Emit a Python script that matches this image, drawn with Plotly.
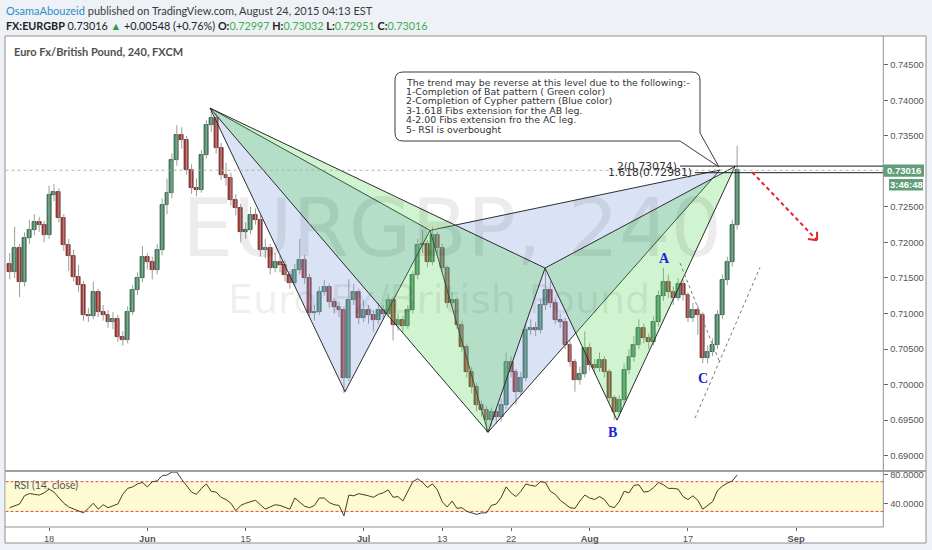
import plotly.graph_objects as go

W, H = 932, 550

# ---------------- data (12h bars, x = trading-day index, 0 = Mon 18 May 2015) ----------------
bar_day = [i * 0.5 - 4.0 for i in range(149)]
first_open = 0.7170
closes = [
    0.7158, 0.7192, 0.7144, 0.7206, 0.7217, 0.7229, 0.7224, 0.7210, 0.7267, 0.7271,
    0.7234, 0.7196, 0.7181, 0.7151, 0.7140, 0.7098, 0.7096, 0.7130, 0.7102, 0.7098,
    0.7088, 0.7092, 0.7067, 0.7063, 0.7102, 0.7133, 0.7150, 0.7179, 0.7172, 0.7161,
    0.7189, 0.7253, 0.7269, 0.7316, 0.7351, 0.7344, 0.7302, 0.7277, 0.7274, 0.7323,
    0.7365, 0.7375, 0.7333, 0.7295, 0.7291, 0.7260, 0.7248, 0.7215, 0.7217, 0.7239,
    0.7232, 0.7189, 0.7192, 0.7164, 0.7172, 0.7168, 0.7154, 0.7143, 0.7161, 0.7175,
    0.7150, 0.7101, 0.7102, 0.7130, 0.7137, 0.7116, 0.7109, 0.7105, 0.7009, 0.7119,
    0.7130, 0.7094, 0.7105, 0.7098, 0.7091, 0.7105, 0.7100, 0.7119, 0.7084, 0.7091,
    0.7082, 0.7105, 0.7154, 0.7196, 0.7198, 0.7172, 0.7210, 0.7192, 0.7164, 0.7115,
    0.7119, 0.7084, 0.7053, 0.7018, 0.6997, 0.6971, 0.6964, 0.6950, 0.6961, 0.6954,
    0.6971, 0.7032, 0.7018, 0.6990, 0.7009, 0.7077, 0.7080, 0.7077, 0.7112, 0.7133,
    0.7115, 0.7091, 0.7088, 0.7056, 0.7032, 0.7006, 0.7015, 0.7051, 0.7028, 0.7023,
    0.7035, 0.7018, 0.6981, 0.6961, 0.6978, 0.7021, 0.7039, 0.7056, 0.7080, 0.7066,
    0.7060, 0.7088, 0.7125, 0.7144, 0.7130, 0.7122, 0.7141, 0.7126, 0.7094, 0.7105,
    0.7098, 0.7037, 0.7046, 0.7056, 0.7098, 0.7147, 0.7172, 0.7224, 0.73016]
highs = [
    0.7185, 0.7222, 0.7198, 0.7214, 0.7232, 0.7240, 0.7236, 0.7230, 0.7280, 0.7282,
    0.7276, 0.7240, 0.7205, 0.7190, 0.7168, 0.7146, 0.7108, 0.7145, 0.7135, 0.7112,
    0.7105, 0.7102, 0.7098, 0.7075, 0.7110, 0.7140, 0.7158, 0.7195, 0.7185, 0.7180,
    0.7198, 0.7262, 0.7290, 0.7325, 0.7365, 0.7362, 0.7350, 0.7310, 0.7290, 0.7330,
    0.7372, 0.7389, 0.7382, 0.7340, 0.7312, 0.7298, 0.7268, 0.7254, 0.7228, 0.7250,
    0.7248, 0.7238, 0.7205, 0.7198, 0.7185, 0.7182, 0.7175, 0.7160, 0.7170, 0.7205,
    0.7182, 0.7156, 0.7112, 0.7138, 0.7147, 0.7142, 0.7122, 0.7117, 0.7110, 0.7148,
    0.7142, 0.7135, 0.7118, 0.7112, 0.7105, 0.7115, 0.7112, 0.7128, 0.7124, 0.7100,
    0.7097, 0.7112, 0.7160, 0.7205, 0.7218, 0.7203, 0.7222, 0.7215, 0.7198, 0.7168,
    0.7130, 0.7123, 0.7090, 0.7058, 0.7025, 0.7002, 0.6978, 0.6970, 0.6968, 0.6966,
    0.6980, 0.7045, 0.7040, 0.7022, 0.7018, 0.7085, 0.7092, 0.7088, 0.7120, 0.7163,
    0.7145, 0.7120, 0.7100, 0.7094, 0.7062, 0.7036, 0.7025, 0.7075, 0.7058, 0.7036,
    0.7045, 0.7040, 0.7022, 0.6985, 0.6985, 0.7030, 0.7050, 0.7068, 0.7092, 0.7086,
    0.7072, 0.7096, 0.7132, 0.7164, 0.7155, 0.7138, 0.7150, 0.7148, 0.7130, 0.7115,
    0.7112, 0.7102, 0.7055, 0.7065, 0.7105, 0.7155, 0.7180, 0.7232, 0.7336]
lows = [
    0.7148, 0.7150, 0.7123, 0.7138, 0.7198, 0.7210, 0.7215, 0.7200, 0.7205, 0.7258,
    0.7228, 0.7188, 0.7160, 0.7145, 0.7130, 0.7090, 0.7088, 0.7092, 0.7095, 0.7090,
    0.7080, 0.7078, 0.7060, 0.7055, 0.7058, 0.7098, 0.7126, 0.7144, 0.7162, 0.7148,
    0.7155, 0.7182, 0.7240, 0.7262, 0.7308, 0.7332, 0.7295, 0.7268, 0.7265, 0.7270,
    0.7318, 0.7355, 0.7325, 0.7288, 0.7280, 0.7252, 0.7238, 0.7200, 0.7205, 0.7212,
    0.7225, 0.7180, 0.7178, 0.7155, 0.7158, 0.7158, 0.7145, 0.7135, 0.7138, 0.7155,
    0.7142, 0.7095, 0.7090, 0.7098, 0.7125, 0.7108, 0.7100, 0.7095, 0.6988, 0.7005,
    0.7112, 0.7085, 0.7088, 0.7086, 0.7075, 0.7085, 0.7092, 0.7095, 0.7062, 0.7076,
    0.7074, 0.7078, 0.7100, 0.7148, 0.7185, 0.7165, 0.7168, 0.7185, 0.7158, 0.7108,
    0.7108, 0.7078, 0.7046, 0.7010, 0.6988, 0.6962, 0.6955, 0.6933, 0.6942, 0.6945,
    0.6948, 0.6966, 0.7010, 0.6972, 0.6985, 0.7005, 0.7070, 0.7068, 0.7072, 0.7105,
    0.7108, 0.7085, 0.7080, 0.7050, 0.7025, 0.6990, 0.7000, 0.7010, 0.7020, 0.7015,
    0.7018, 0.7010, 0.6975, 0.6950, 0.6955, 0.6972, 0.7015, 0.7032, 0.7050, 0.7058,
    0.7050, 0.7055, 0.7082, 0.7118, 0.7122, 0.7112, 0.7118, 0.7118, 0.7088, 0.7088,
    0.7070, 0.7030, 0.7030, 0.7040, 0.7050, 0.7092, 0.7140, 0.7166, 0.7218]
rsi = [
    35, 37, 40, 51, 54, 53, 52, 55, 60, 56,
    48, 41, 36, 33, 31, 28, 34, 41, 33, 39,
    35, 38, 40, 53, 61, 63, 67, 69, 63, 70,
    71, 78, 79, 83, 83, 73, 65, 56, 53, 61,
    67, 57, 56, 49, 46, 41, 31, 38, 41, 43,
    45, 39, 33, 36, 39, 38, 35, 33, 48, 43,
    37, 35, 38, 48, 48, 42, 39, 38, 24, 52,
    51, 54, 53, 51, 49, 53, 55, 59, 49, 50,
    44, 58, 70, 74, 69, 62, 67, 59, 43, 36,
    44, 34, 35, 30, 28, 26, 28, 28, 38, 40,
    49, 63, 55, 50, 57, 67, 65, 64, 70, 69,
    57, 53, 45, 40, 35, 34, 44, 52, 48, 46,
    50, 46, 37, 35, 43, 57, 55, 65, 66, 56,
    57, 62, 69, 66, 61, 61, 60, 50, 46, 51,
    45, 33, 38, 43, 58, 64, 68, 71, 79]

price_tick_vals = [0.690, 0.695, 0.700, 0.705, 0.710, 0.715, 0.720, 0.725, 0.730, 0.735, 0.740, 0.745]
price_tick_text = ["0.69000", "0.69500", "0.70000", "0.70500", "0.71000", "0.71500",
                   "0.72000", "0.72500", "0.73000", "0.73500", "0.74000", "0.74500"]
date_tick_days = [0, 10, 20, 32, 40, 47, 55, 65, 76]
date_tick_text = ["18", "<b>Jun</b>", "15", "<b>Jul</b>", "13", "22", "<b>Aug</b>", "17", "<b>Sep</b>"]
rsi_tick_vals = [40, 80]
rsi_tick_text = ["40.0000", "80.0000"]

last_price = 0.73016
fib_levels = [(2.0, 0.73074, 64.2), (1.618, 0.72981, 65.7)]   # (ratio, price, start day)

# harmonic pattern pivots (trading day, price)
cypher = {"X": (16.38, 0.7389), "A": (30.11, 0.6990), "B": (38.76, 0.7217),
          "C": (44.66, 0.6933), "D": (68.26, 0.7302)}
bat = {"X": (16.38, 0.7389), "A": (44.66, 0.6933), "B": (50.46, 0.7164),
       "C": (57.78, 0.6950), "D": (69.79, 0.7307)}
abc_labels = [("A", 62.66, 0.7178), ("B", 57.27, 0.6932), ("C", 66.53, 0.7009)]
trend_lines = [((64.19, 0.7171), (68.26, 0.7030)), ((65.72, 0.6953), (72.33, 0.7165))]
arrow_line = ((71.52, 0.7299), (78.13, 0.7203))
arrow_wings = [(77.21, 0.7205), (78.13, 0.7215)]

callout_lines = [
    "The trend may be reverse at this level due to the following:-",
    "1-Completion of Bat pattern ( Green color)",
    "2-Completion of Cypher pattern (Blue color)",
    "3-1.618 Fibs extension for the AB leg.",
    "4-2.00 Fibs extension fro the AC leg.",
    "5- RSI is overbought",
]

# ---------------- layout geometry (pixels) ----------------
XR = [-4.43, 84.87]
YR = [0.68785, 0.74904]
RSI_R = [9.4, 84.4]
PL, PR = 5.5, 883.3          # plot left/right px
MT, MB = 36, 471             # main pane top/bottom px
RB = 526.7                   # rsi pane bottom px


def px(x):
    return x / W


def py(y):
    return 1 - y / H


opens = [first_open] + closes[:-1]
up = [c >= o for o, c in zip(opens, closes)]
body_base = [min(o, c) for o, c in zip(opens, closes)]
body_h = [max(abs(c - o), 0.00008) for o, c in zip(opens, closes)]

fig = go.Figure()

# wicks
wx, wy = [], []
for d, h, l in zip(bar_day, highs, lows):
    wx += [d, d, None]
    wy += [l, h, None]
fig.add_trace(go.Scatter(x=wx, y=wy, mode="lines", line=dict(color="#9c9c9c", width=1),
                         hoverinfo="skip"))
# bodies
fig.add_trace(go.Bar(x=bar_day, y=body_h, base=body_base, width=0.4,
                     marker=dict(color=["#4f9a70" if u else "#b5403b" for u in up],
                                 line=dict(color=["#1f4d33" if u else "#5c1b19" for u in up],
                                           width=0.8)),
                     hoverinfo="skip"))


def tri(p, keys):
    xs = [p[k][0] for k in keys] + [p[keys[0]][0]]
    ys = [p[k][1] for k in keys] + [p[keys[0]][1]]
    return xs, ys


for pat, fillc in ((cypher, "rgba(120,155,220,0.28)"), (bat, "rgba(80,210,80,0.27)")):
    for keys in (("X", "A", "B"), ("B", "C", "D")):
        xs, ys = tri(pat, keys)
        fig.add_trace(go.Scatter(x=xs, y=ys, mode="lines", fill="toself", fillcolor=fillc,
                                 line=dict(color="#2e2e2e", width=1), hoverinfo="skip"))

# RSI
fig.add_trace(go.Scatter(x=bar_day, y=rsi, xaxis="x2", yaxis="y2", mode="lines",
                         line=dict(color="#3d3d22", width=1), hoverinfo="skip"))

shapes = []
# white chart frame
shapes.append(dict(type="rect", xref="paper", yref="paper", x0=px(5), x1=px(926), y0=py(543), y1=py(36),
                   fillcolor="white", line=dict(color="#8f8f8f", width=1), layer="below"))
# rsi band
shapes.append(dict(type="rect", xref="x2", yref="y2", x0=XR[0], x1=XR[1], y0=30, y1=70,
                   fillcolor="#fefbd2", line=dict(width=0), layer="below"))
for lv in (30, 70):
    shapes.append(dict(type="line", xref="x2", yref="y2", x0=XR[0], x1=XR[1], y0=lv, y1=lv,
                       line=dict(color="#e04a42", width=1, dash="3px,2px"), layer="below"))
# pane separators / axis lines
shapes.append(dict(type="line", xref="paper", yref="paper", x0=px(5), x1=px(926), y0=py(471), y1=py(471),
                   line=dict(color="#a0a0a0", width=2)))
shapes.append(dict(type="line", xref="paper", yref="paper", x0=px(5), x1=px(883.3), y0=py(527), y1=py(527),
                   line=dict(color="#8f8f8f", width=1)))
shapes.append(dict(type="line", xref="paper", yref="paper", x0=px(883.3), x1=px(883.3), y0=py(527), y1=py(36),
                   line=dict(color="#8f8f8f", width=1)))
# current price dotted line
shapes.append(dict(type="line", xref="x", yref="y", x0=XR[0], x1=XR[1], y0=last_price, y1=last_price,
                   line=dict(color="#b0b0b0", width=1, dash="dot")))
# fib lines
for ratio, lvl, start in fib_levels:
    shapes.append(dict(type="line", xref="x", yref="y", x0=start, x1=XR[1], y0=lvl, y1=lvl,
                       line=dict(color="#1a1a1a", width=1)))
# dotted trend lines
for (a, b) in trend_lines:
    shapes.append(dict(type="line", xref="x", yref="y", x0=a[0], y0=a[1], x1=b[0], y1=b[1],
                       line=dict(color="#777777", width=1, dash="dot")))
# red dashed arrow
(a, b) = arrow_line
shapes.append(dict(type="line", xref="x", yref="y", x0=a[0], y0=a[1], x1=b[0], y1=b[1],
                   line=dict(color="#e8262b", width=2, dash="4px,3px")))
for wgt in arrow_wings:
    shapes.append(dict(type="line", xref="x", yref="y", x0=b[0], y0=b[1], x1=wgt[0], y1=wgt[1],
                       line=dict(color="#e8262b", width=2)))

# callout box with pointer (pixel geometry -> paper)
L, R, T, B, r = 395, 700, 72, 141, 8
pts = (f"M {px(L + r)},{py(T)} L {px(R - r)},{py(T)} Q {px(R)},{py(T)} {px(R)},{py(T + r)} "
       f"L {px(R)},{py(133)} L {px(719)},{py(167)} L {px(680)},{py(B)} "
       f"L {px(L + r)},{py(B)} Q {px(L)},{py(B)} {px(L)},{py(B - r)} "
       f"L {px(L)},{py(T + r)} Q {px(L)},{py(T)} {px(L + r)},{py(T)} Z")
shapes.append(dict(type="path", xref="paper", yref="paper", path=pts, fillcolor="white",
                   line=dict(color="#3a3a3a", width=1)))
# price label boxes
shapes.append(dict(type="rect", xref="paper", yref="paper", x0=px(883.5), x1=px(924), y0=py(176.8), y1=py(164.6),
                   fillcolor="#5f9e79", line=dict(width=0)))
shapes.append(dict(type="rect", xref="paper", yref="paper", x0=px(889), x1=px(923), y0=py(190.5), y1=py(179),
                   fillcolor="#5f9e79", line=dict(width=0)))

ann = []
# watermark
ann.append(dict(xref="paper", yref="paper", x=px(180), y=py(228), xanchor="left", yanchor="middle",
                text="EURGBP, 240", showarrow=False,
                font=dict(family="DejaVu Sans", size=81, color="rgba(0,0,0,0.075)")))
ann.append(dict(xref="paper", yref="paper", x=px(226), y=py(299), xanchor="left", yanchor="middle",
                text="Euro Fx/British Pound", showarrow=False,
                font=dict(family="DejaVu Sans", size=39.5, color="rgba(0,0,0,0.075)")))
# header
ann.append(dict(xref="paper", yref="paper", x=px(4), y=py(10), xanchor="left", yanchor="middle", showarrow=False,
                text="<span style='color:#2f8ccc'>OsamaAbouzeid</span> published on TradingView.com, August 24, 2015 04:13 EST",
                font=dict(family="Lato", size=11, color="#3a3a3a")))
g = "#3cae4c"
ann.append(dict(xref="paper", yref="paper", x=px(4), y=py(25.5), xanchor="left", yanchor="middle", showarrow=False,
                text=(f"<b>FX:EURGBP</b> 0.73016 <span style='color:#2e9e40'>▲</span> +0.00548 (+0.76%) "
                      f"<b>O:</b><span style='color:{g}'>0.72997</span> <b>H:</b><span style='color:{g}'>0.73032</span> "
                      f"<b>L:</b><span style='color:{g}'>0.72951</span> <b>C:</b><span style='color:{g}'>0.73016</span>"),
                font=dict(family="Lato", size=10.8, color="#222222")))
ann.append(dict(xref="paper", yref="paper", x=px(12), y=py(51), xanchor="left", yanchor="middle", showarrow=False,
                text="<b>Euro Fx/British Pound, 240, FXCM</b>",
                font=dict(family="Lato", size=11, color="#505050")))
ann.append(dict(xref="paper", yref="paper", x=px(12), y=py(485), xanchor="left", yanchor="middle", showarrow=False,
                text="RSI (14, close)", font=dict(family="Lato", size=10.5, color="#555555")))
# callout text
for i, line in enumerate(callout_lines):
    ann.append(dict(xref="paper", yref="paper", x=px(404), y=py(82.3 + 9.35 * i), xanchor="left", yanchor="middle",
                    showarrow=False, text=line, font=dict(family="DejaVu Sans", size=9.4, color="#333333")))
# fib labels
for ratio, lvl, start in fib_levels:
    lab = ("2" if ratio == 2.0 else "1.618") + f"({lvl:.5f})"
    ann.append(dict(xref="x", yref="y", x=start - 0.12, y=lvl, xanchor="right", yanchor="middle",
                    showarrow=False, text=lab, font=dict(family="DejaVu Sans", size=10.8, color="#333333")))
# ABC labels
for t, d, p in abc_labels:
    ann.append(dict(xref="x", yref="y", x=d, y=p, xanchor="center", yanchor="middle", showarrow=False,
                    text=f"<b>{t}</b>", font=dict(family="Liberation Serif", size=14, color="#1c22d6")))
# price / countdown labels
ann.append(dict(xref="paper", yref="paper", x=px(904), y=py(170.7), xanchor="center", yanchor="middle",
                showarrow=False, text="<b>0.73016</b>",
                font=dict(family="Liberation Sans", size=9.5, color="white")))
ann.append(dict(xref="paper", yref="paper", x=px(906), y=py(184.7), xanchor="center", yanchor="middle",
                showarrow=False, text="<b>3:46:48</b>",
                font=dict(family="Liberation Sans", size=9.5, color="white")))

axis_font = dict(family="Liberation Sans", size=9.3, color="#555555")
fig.update_layout(
    width=W, height=H, margin=dict(l=0, r=0, t=0, b=0),
    paper_bgcolor="#eef1f6", plot_bgcolor="rgba(0,0,0,0)", showlegend=False, bargap=0,
    xaxis=dict(domain=[px(PL), px(PR)], range=XR, showticklabels=False, showgrid=False,
               zeroline=False, showline=False, ticks="", fixedrange=True),
    yaxis=dict(domain=[py(MB), py(MT)], range=YR, side="right", tickvals=price_tick_vals,
               ticktext=price_tick_text, ticks="outside", ticklen=4, tickcolor="#666666",
               tickfont=axis_font, showgrid=False, zeroline=False, showline=False, fixedrange=True),
    xaxis2=dict(domain=[px(PL), px(PR)], range=XR, anchor="y2", tickvals=date_tick_days,
                ticktext=date_tick_text, ticks="outside", ticklen=3, tickcolor="#666666",
                tickfont=axis_font, showgrid=False, zeroline=False, showline=False, fixedrange=True),
    yaxis2=dict(domain=[py(RB), py(MB)], range=RSI_R, anchor="x2", side="right",
                tickvals=rsi_tick_vals, ticktext=rsi_tick_text, ticks="outside", ticklen=4,
                tickcolor="#666666", tickfont=axis_font, showgrid=False, zeroline=False,
                showline=False, fixedrange=True),
    shapes=shapes, annotations=ann,
)

fig.write_html("out.html", config={"displayModeBar": False},
               post_script="document.body.style.margin='0px';document.body.style.background='#eef1f6';")
